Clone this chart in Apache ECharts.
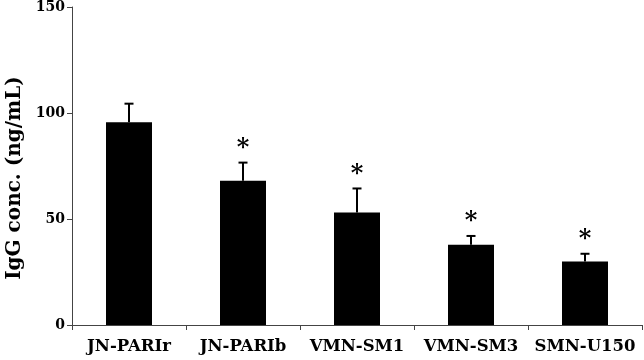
<!DOCTYPE html>
<html>
<head>
<meta charset="utf-8">
<script src="https://cdn.jsdelivr.net/npm/echarts@6/dist/echarts.min.js"></script>
<style>html,body{margin:0;padding:0;background:#fff;}#c{width:644px;height:360px;}</style>
</head>
<body>
<div id="c"></div>
<script>
const categories = ['JN-PARIr', 'JN-PARIb', 'VMN-SM1', 'VMN-SM3', 'SMN-U150'];
const means = [95.6, 68.0, 53.1, 37.9, 29.9];
const errors = [8.8, 8.6, 11.3, 4.1, 3.7];
const significant = [false, true, true, true, true];
const yTicks = [0, 50, 100, 150];

const FONT = 'DejaVu Serif';
const chart = echarts.init(document.getElementById('c'));
const errData = categories.map((c, i) => [i, means[i], errors[i], significant[i] ? 1 : 0]);

chart.setOption({
  animation: false,
  grid: { left: 72, right: 2, top: 7, bottom: 35, containLabel: false, outerBoundsMode: 'none' },
  xAxis: {
    type: 'category',
    data: categories,
    axisLine: { lineStyle: { color: '#444', width: 1 } },
    axisTick: { show: true, alignWithLabel: false, length: 5, lineStyle: { color: '#444' } },
    axisLabel: { interval: 0, hideOverlap: false, color: '#000', fontFamily: FONT, fontWeight: 'bold', fontSize: 16.5, margin: 13 }
  },
  yAxis: {
    type: 'value',
    min: yTicks[0], max: yTicks[yTicks.length - 1], interval: 50,
    name: 'IgG conc. (ng/mL)',
    nameLocation: 'middle',
    nameRotate: 90,
    nameGap: 45,
    nameTextStyle: { color: '#000', fontFamily: FONT, fontWeight: 'bold', fontSize: 20, padding: [0, 24, 0, 0] },
    axisLine: { show: true, lineStyle: { color: '#444', width: 1 } },
    axisTick: { show: true, length: 5, lineStyle: { color: '#444' } },
    splitLine: { show: false },
    axisLabel: { color: '#000', fontFamily: FONT, fontWeight: 'bold', fontSize: 14, margin: 7 }
  },
  series: [
    {
      type: 'bar',
      data: means,
      barWidth: 46,
      itemStyle: { color: '#000' },
      z: 2
    },
    {
      type: 'custom',
      data: errData,
      z: 3,
      renderItem: function (params, api) {
        const i = api.value(0);
        const m = api.value(1);
        const e = api.value(2);
        const sig = api.value(3);
        const base = api.coord([i, m]);
        const top = api.coord([i, m + e]);
        const x = base[0];
        const children = [
          { type: 'line', shape: { x1: x, y1: base[1], x2: x, y2: top[1] }, style: { stroke: '#000', lineWidth: 2 } },
          { type: 'line', shape: { x1: x - 4.5, y1: top[1], x2: x + 4.5, y2: top[1] }, style: { stroke: '#000', lineWidth: 2 } }
        ];
        if (sig) {
          children.push({
            type: 'text',
            style: { text: '*', x: x, y: top[1] - 2, textAlign: 'center', textVerticalAlign: 'bottom', fontFamily: FONT, fontWeight: 'bold', fontSize: 24, fill: '#000' }
          });
        }
        return { type: 'group', children: children };
      }
    }
  ]
});
</script>
</body>
</html>
